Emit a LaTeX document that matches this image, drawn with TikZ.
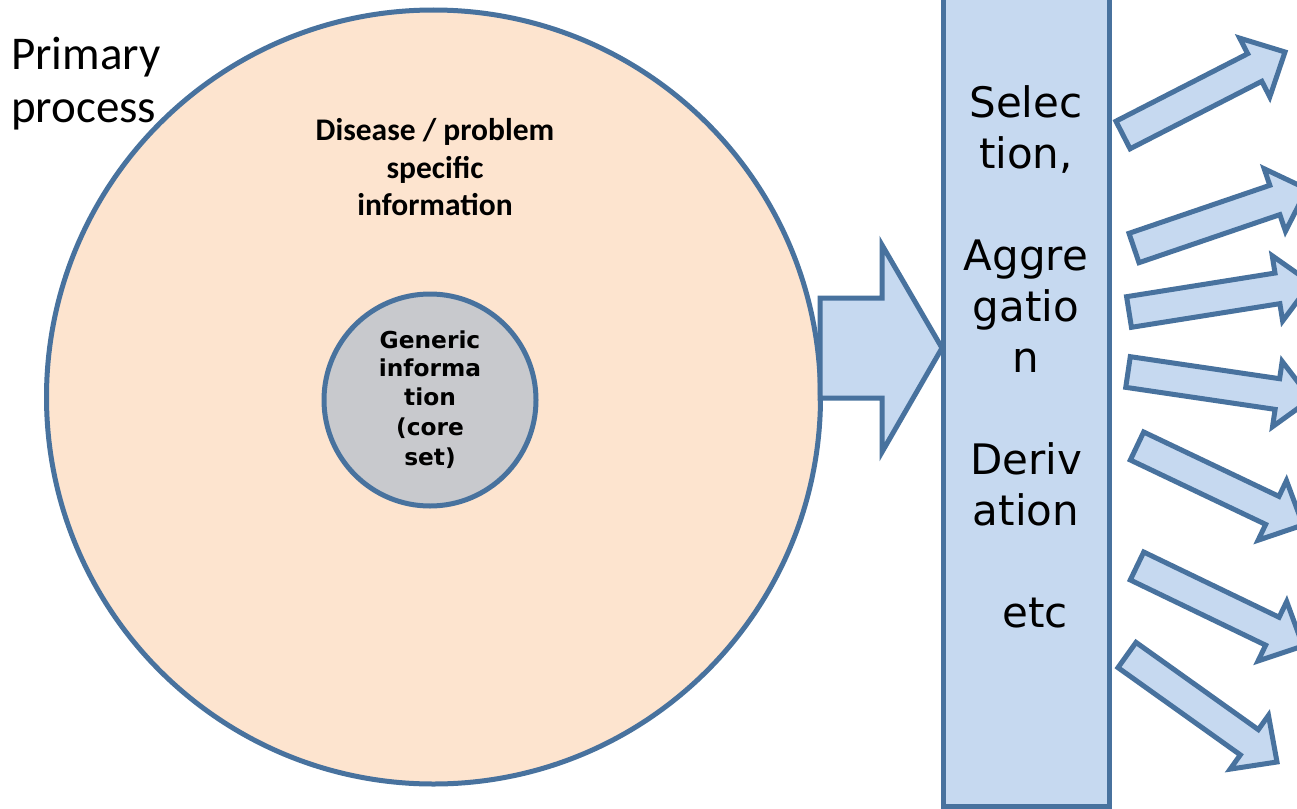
\documentclass[tikz,border=0pt]{standalone}
\usepackage{fontspec}
\setmainfont{Carlito}
\newfontfamily\dejavu{DejaVu Sans}
\usetikzlibrary{calc}

\definecolor{edgeblue}{HTML}{48729E}
\definecolor{arrowfill}{HTML}{C6D9F0}
\definecolor{peach}{HTML}{FDE4CF}
\definecolor{coregray}{HTML}{C8C9CD}

% block arrow: #1,#2 = tail centre, #3,#4 = tip (pixel-style coordinates)
\newcommand\blockarrow[4]{%
  \pgfmathsetmacro\baang{atan2(-((#4)-(#2)),(#3)-(#1))}%
  \pgfmathsetmacro\balen{veclen((#3)-(#1),(#4)-(#2))}%
  \begin{scope}[shift={(#1,#2)},rotate=\baang]
    \draw[blockstyle] (0,-15.5) -- (\balen-34,-15.5) -- (\balen-34,-33)
      -- (\balen,0) -- (\balen-34,33) -- (\balen-34,15.5) -- (0,15.5) -- cycle;
  \end{scope}}

\begin{document}
\begin{tikzpicture}[x=1pt,y=-1pt,
  blockstyle/.style={draw=edgeblue,fill=arrowfill,line width=5pt,line join=miter},
  bartext/.style={anchor=base,inner sep=0pt,font=\dejavu\fontsize{42}{50}\selectfont},
  disease/.style={anchor=base,inner sep=0pt,font=\bfseries\fontsize{31.5}{38}\selectfont},
  coretext/.style={anchor=base,inner sep=0pt,font=\dejavu\bfseries\fontsize{23.3}{28}\selectfont},
  primtext/.style={anchor=base west,inner sep=0pt,font=\fontsize{47}{56}\selectfont}]
\useasboundingbox (0,0) rectangle (1297,808);
\fill[white] (0,0) rectangle (1297,808);

% outer and inner circles
\draw[draw=edgeblue,fill=peach,line width=5pt] (433.5,397) circle[radius=387];
\draw[draw=edgeblue,fill=coregray,line width=5pt] (430,400) circle[radius=106];

% large arrow into the processing bar
\draw[blockstyle] (820,298) -- (882,298) -- (882,245) -- (942,348)
  -- (882,452) -- (882,398) -- (820,398) -- cycle;

% processing bar
\draw[blockstyle] (943.5,-10) rectangle (1109.5,806);

% output arrows
\blockarrow{1123}{135}{1285}{52}
\blockarrow{1134}{248}{1307}{189}
\blockarrow{1129}{312}{1311}{283}
\blockarrow{1128}{372}{1311}{399}
\blockarrow{1137}{446}{1303}{525}
\blockarrow{1137}{566}{1303}{646}
\blockarrow{1127}{655}{1277}{762}

% labels
\node[primtext] (prim1) at (11,70) {Primary};
\node[primtext] (prim2) at (11,122) {process};

\node[disease] (dis1) at (435,140) {Disease / problem};
\node[disease] (dis2) at (435,178) {specific};
\node[disease] (dis3) at (435,215) {information};

\node[coretext] (core1) at (430,348) {Generic};
\node[coretext] (core2) at (430,376) {informa};
\node[coretext] (core3) at (430,405) {tion};
\node[coretext] (core4) at (430,435) {(core};
\node[coretext] (core5) at (430,465) {set)};

\node[bartext] (bar1) at (1026,117) {Selec};
\node[bartext] (bar2) at (1026,168) {tion,};
\node[bartext] (bar3) at (1026,270) {Aggre};
\node[bartext] (bar4) at (1026,321) {gatio};
\node[bartext] (bar5) at (1026,372) {n};
\node[bartext] (bar6) at (1026,474) {Deriv};
\node[bartext] (bar7) at (1026,525) {ation};
\node[bartext] (bar8) at (1035,627) {etc};
\end{tikzpicture}
\end{document}
